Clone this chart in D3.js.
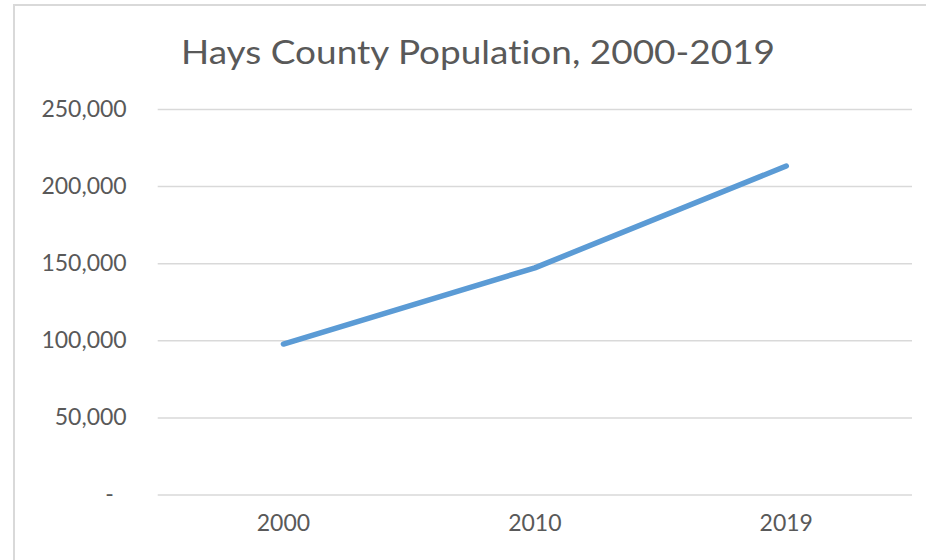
<!DOCTYPE html>
<html>
<head>
<meta charset="utf-8">
<script src="https://cdn.jsdelivr.net/npm/d3@7/dist/d3.min.js"></script>
<style>
  html, body { margin: 0; padding: 0; background: #ffffff; }
  svg { display: block; font-family: Lato, "Open Sans", sans-serif; font-variant-ligatures: none; }
</style>
</head>
<body>
<svg id="chart" width="926" height="560"></svg>
<script>
const title = "Hays County Population, 2000-2019";
const years = ["2000", "2010", "2019"];
const population = [97589, 147000, 213000];
const yTicks = [0, 50000, 100000, 150000, 200000, 250000];

const W = 926, H = 560;
const plot = { left: 157.7, right: 912, top: 109, bottom: 494.5 };
const textColor = "#595959";
const gridColor = "#d9d9d9";
const lineColor = "#5b9bd5";

const svg = d3.select("#chart");
svg.append("rect").attr("width", W).attr("height", H).attr("fill", "#fff");

// chart border (top & left visible)
svg.append("line").attr("x1", 14).attr("x2", W).attr("y1", 5).attr("y2", 5)
  .attr("stroke", gridColor).attr("stroke-width", 2);
svg.append("line").attr("x1", 14).attr("x2", 14).attr("y1", 4).attr("y2", H)
  .attr("stroke", gridColor).attr("stroke-width", 2);

const x = d3.scaleBand().domain(years).range([plot.left, plot.right]).padding(0);
const y = d3.scaleLinear().domain([0, 250000]).range([plot.bottom, plot.top]);

// title
svg.append("text")
  .attr("x", 181).attr("y", 64)
  .attr("text-anchor", "start")
  .attr("fill", textColor)
  .attr("font-size", 33)
  .attr("textLength", 594)
  .attr("lengthAdjust", "spacingAndGlyphs")
  .text(title);

// y axis with gridlines
const yAxis = d3.axisLeft(y)
  .tickValues(yTicks)
  .tickSize(-(plot.right - plot.left))
  .tickPadding(31)
  .tickFormat(d => d === 0 ? "-" : d3.format(",")(d));

const gy = svg.append("g")
  .attr("transform", `translate(${plot.left},0)`)
  .call(yAxis);
gy.select(".domain").remove();
gy.selectAll(".tick line").attr("stroke", gridColor).attr("stroke-width", 1.5);
gy.selectAll(".tick text")
  .attr("fill", textColor)
  .attr("font-size", 23)
  .attr("font-family", "Lato, 'Open Sans', sans-serif")
  .attr("dx", d => d === 0 ? -13 : 0);

// x axis labels
const xAxis = d3.axisBottom(x).tickSize(0).tickPadding(20);
const gx = svg.append("g")
  .attr("transform", `translate(0,${plot.bottom})`)
  .call(xAxis);
gx.select(".domain").remove();
gx.selectAll(".tick text")
  .attr("fill", textColor)
  .attr("font-size", 23)
  .attr("font-family", "Lato, 'Open Sans', sans-serif");

// line
const line = d3.line()
  .x((d, i) => x(years[i]) + x.bandwidth() / 2)
  .y(d => y(d));

svg.append("path")
  .datum(population)
  .attr("d", line)
  .attr("fill", "none")
  .attr("stroke", lineColor)
  .attr("stroke-width", 5.5)
  .attr("stroke-linecap", "round")
  .attr("stroke-linejoin", "round");
</script>
</body>
</html>
